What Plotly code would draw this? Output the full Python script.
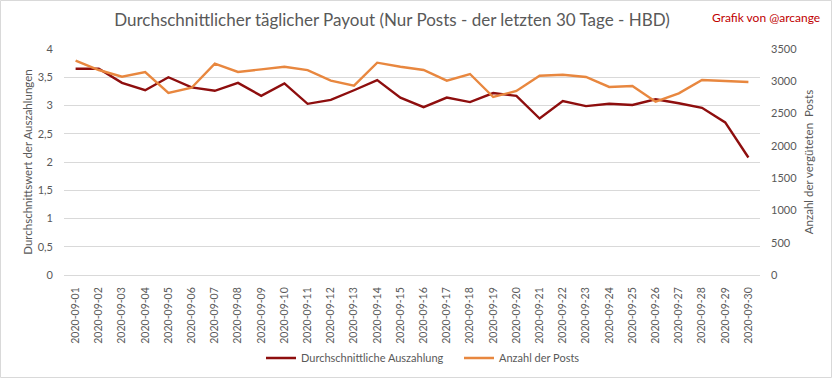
import plotly.graph_objects as go

dates = [f"2020-09-{d:02d}" for d in range(1, 31)]
payout = [3.65, 3.65, 3.40, 3.27, 3.50, 3.32, 3.26, 3.40, 3.17, 3.39,
          3.03, 3.10, 3.27, 3.45, 3.14, 2.97, 3.14, 3.06, 3.22, 3.17,
          2.77, 3.08, 2.99, 3.03, 3.01, 3.11, 3.04, 2.96, 2.70, 2.08]
posts = [3320, 3175, 3070, 3144, 2820, 2900, 3273, 3144, 3185, 3226,
         3172, 3010, 2932, 3288, 3226, 3175, 3010, 3113, 2757, 2850,
         3085, 3102, 3066, 2912, 2927, 2684, 2814, 3020, 3004, 2989]
left_ticks = [0, 0.5, 1, 1.5, 2, 2.5, 3, 3.5, 4]
left_labels = ["0", "0,5", "1", "1,5", "2", "2,5", "3", "3,5", "4"]
right_ticks = [0, 500, 1000, 1500, 2000, 2500, 3000, 3500]

W, H = 833, 379
ML, MR, MT, MB = 64, 73, 49, 104
PW, PH = W - ML - MR, H - MT - MB
FONT = "Lato"
GREY = "#595959"

fig = go.Figure()
fig.add_trace(go.Scatter(x=dates, y=payout, mode="lines", name="Durchschnittliche Auszahlung",
                         line=dict(color="#8E0E0E", width=2.4), yaxis="y"))
fig.add_trace(go.Scatter(x=dates, y=posts, mode="lines", name="Anzahl der Posts",
                         line=dict(color="#E8873F", width=2.4), yaxis="y2"))


def px_x(p):
    return (p - ML) / PW


def px_y(p):
    return 1 - (p - MT) / PH


fig.update_layout(
    width=W, height=H,
    margin=dict(l=ML, r=MR, t=MT, b=MB, autoexpand=False),
    paper_bgcolor="white", plot_bgcolor="white",
    font=dict(family=FONT, color=GREY, size=11),
    showlegend=True,
    legend=dict(orientation="h", x=px_x(261), xanchor="left", xref="paper",
                y=px_y(358), yanchor="middle", font=dict(size=11, color=GREY),
                itemwidth=30, entrywidth=153, entrywidthmode="pixels",
                tracegroupgap=0, bgcolor="rgba(0,0,0,0)"),
    xaxis=dict(type="category", range=[-0.5, 29.5], showgrid=False, automargin=False,
               showline=True, linecolor="#D9D9D9", linewidth=1,
               tickangle=-90, tickfont=dict(size=10.5, color=GREY),
               ticks="", ticklabelstandoff=7, zeroline=False),
    yaxis=dict(range=[0, 4], tickvals=left_ticks, ticktext=left_labels, automargin=False,
               showgrid=True, gridcolor="#D9D9D9", gridwidth=1, zeroline=False,
               tickfont=dict(size=11, color=GREY), ticklabelstandoff=10,
               title=dict(text="Durchschnittswert der Auszahlungen",
                          font=dict(size=11.5, color=GREY), standoff=2)),
    yaxis2=dict(range=[0, 3500], tickvals=right_ticks, overlaying="y", side="right",
                showgrid=False, zeroline=False, automargin=False,
                tickfont=dict(size=11, color=GREY), ticklabelstandoff=10,
                title=dict(text="Anzahl der vergüteten  Posts",
                           font=dict(size=11.5, color=GREY), standoff=8)),
    title=dict(text="Durchschnittlicher täglicher Payout (Nur Posts - der letzten 30 Tage - HBD)",
               x=392 / W, xanchor="center", xref="container",
               y=1 - 20 / H, yanchor="middle", yref="container", automargin=False,
               font=dict(size=17, color=GREY, family=FONT)),
    annotations=[dict(text="Grafik von @arcange", xref="paper", yref="paper",
                      x=px_x(822), y=px_y(17), xanchor="right", yanchor="middle",
                      showarrow=False, font=dict(size=12, color="#C00000", family=FONT))],
    shapes=[dict(type="rect", xref="paper", yref="paper",
                 x0=px_x(0.5), x1=px_x(W - 1.5), y0=px_y(H - 1.5), y1=px_y(0.5),
                 line=dict(color="#D9D9D9", width=1), layer="below")],
)

fig.write_html("out.html", config={"displayModeBar": False},
               post_script="document.body.style.margin='0';document.body.style.overflow='hidden';")
